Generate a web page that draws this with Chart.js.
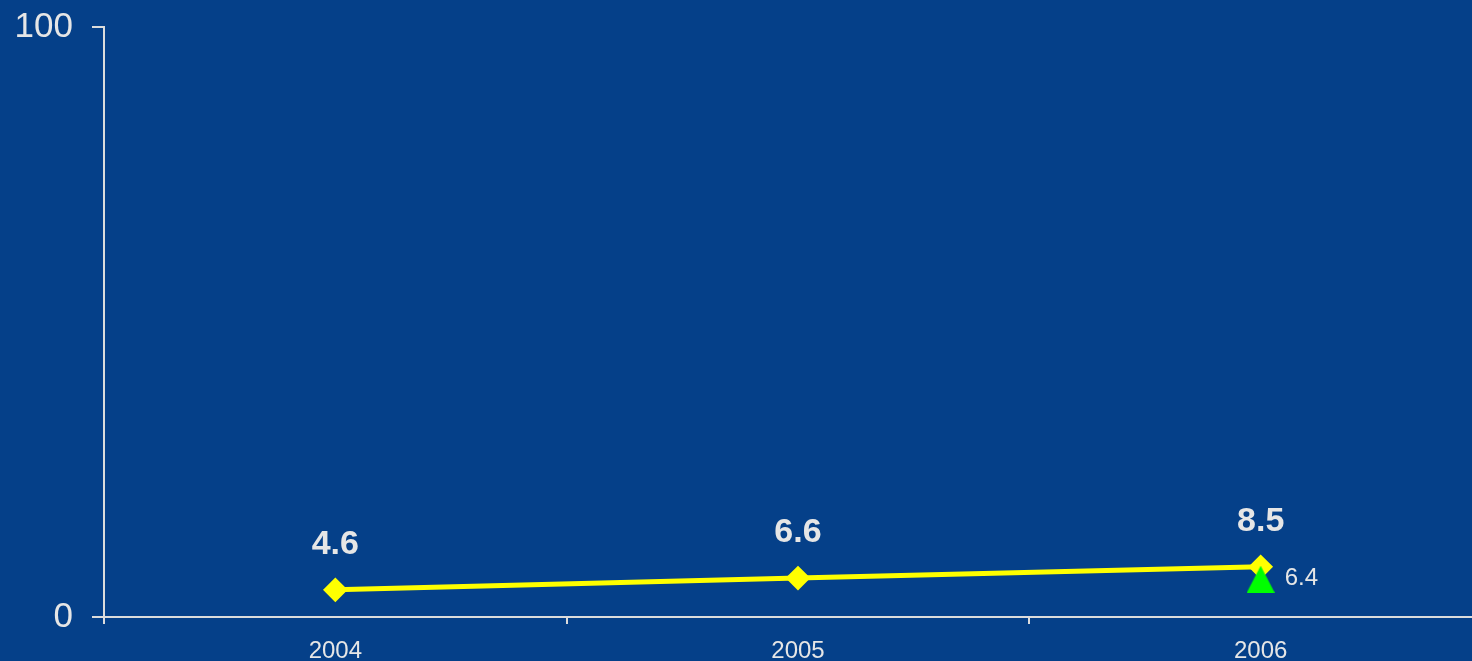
<!DOCTYPE html>
<html>
<head>
<meta charset="utf-8">
<script src="https://cdn.jsdelivr.net/npm/chart.js@4/dist/chart.umd.min.js"></script>
<style>
  html, body { margin: 0; padding: 0; background: #054089; overflow: hidden; }
  canvas { display: block; }
</style>
</head>
<body>
<canvas id="chart" width="1505" height="661"></canvas>
<script>
// Data
const years = ['2004', '2005', '2006'];
const mainValues = [4.6, 6.6, 8.5];
const targetValues = [null, null, 6.4];
const yTicks = [0, 100];

const axisColor = '#dcdcdc';
const textColor = '#e6e6e6';
const fontFamily = 'Arial, "Liberation Sans", sans-serif';

// Green triangle marker, centred on its bounding box like the original
const tri = document.createElement('canvas');
tri.width = 28;
tri.height = 27;
const tctx = tri.getContext('2d');
tctx.fillStyle = '#00ff00';
tctx.beginPath();
tctx.moveTo(14, 0);
tctx.lineTo(28, 27);
tctx.lineTo(0, 27);
tctx.closePath();
tctx.fill();

// Draws the value labels next to the points
const valueLabels = {
    id: 'valueLabels',
    afterDatasetsDraw(chart) {
        const ctx = chart.ctx;
        ctx.save();
        ctx.fillStyle = textColor;
        ctx.textBaseline = 'middle';

        const main = chart.getDatasetMeta(0);
        ctx.font = 'bold 34px ' + fontFamily;
        ctx.textAlign = 'center';
        main.data.forEach((pt, i) => {
            if (mainValues[i] == null) return;
            ctx.fillText(mainValues[i].toFixed(1), pt.x, pt.y - 45);
        });

        const target = chart.getDatasetMeta(1);
        ctx.font = '24px ' + fontFamily;
        ctx.textAlign = 'left';
        target.data.forEach((pt, i) => {
            if (targetValues[i] == null) return;
            ctx.fillText(targetValues[i].toFixed(1), pt.x + 24, pt.y - 1);
        });
        ctx.restore();
    }
};

const ctx = document.getElementById('chart').getContext('2d');
new Chart(ctx, {
    type: 'line',
    data: {
        labels: years,
        datasets: [{
            label: 'Actual',
            data: mainValues,
            borderColor: '#ffff00',
            backgroundColor: '#ffff00',
            borderWidth: 5,
            pointStyle: 'rectRot',
            pointRadius: 11,
            pointBorderWidth: 2,
            pointBorderColor: '#ffff00',
            tension: 0,
            order: 2
        }, {
            label: 'Target',
            data: targetValues,
            showLine: false,
            pointStyle: tri,
            order: 1
        }]
    },
    options: {
        responsive: false,
        animation: false,
        devicePixelRatio: 1,
        layout: {
            padding: { top: 27, right: 9, left: 0, bottom: 0 }
        },
        plugins: {
            legend: { display: false },
            tooltip: { enabled: false }
        },
        scales: {
            x: {
                type: 'category',
                offset: true,
                grid: {
                    offset: true,
                    drawOnChartArea: false,
                    drawTicks: true,
                    tickLength: 7,
                    color: axisColor,
                    lineWidth: 2
                },
                border: { display: true, color: axisColor, width: 2 },
                ticks: {
                    color: textColor,
                    font: { size: 24, family: fontFamily },
                    padding: 13,
                    maxRotation: 0
                },
                afterFit(scale) {
                    scale.height = 44;
                    scale.paddingLeft = 0;
                    scale.paddingRight = 0;
                }
            },
            y: {
                min: 0,
                max: 100,
                afterBuildTicks(scale) {
                    scale.ticks = yTicks.map(v => ({ value: v }));
                },
                grid: {
                    drawOnChartArea: false,
                    drawTicks: true,
                    tickLength: 12,
                    color: axisColor,
                    lineWidth: 2
                },
                border: { display: true, color: axisColor, width: 2 },
                ticks: {
                    color: textColor,
                    font: { size: 35, family: fontFamily },
                    padding: 19
                },
                afterFit(scale) {
                    scale.width = 104;
                    scale.paddingTop = 0;
                    scale.paddingBottom = 0;
                }
            }
        }
    },
    plugins: [valueLabels]
});
</script>
</body>
</html>
